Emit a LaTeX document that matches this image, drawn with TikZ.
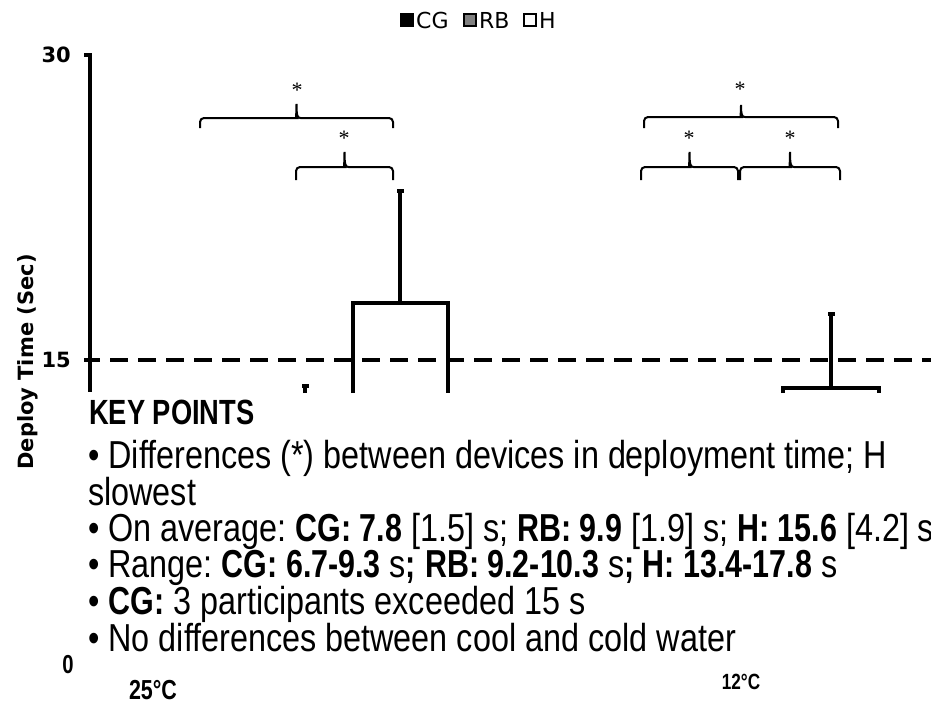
\documentclass[tikz,border=0pt]{standalone}
\usepackage{fontspec}
\setmainfont{Liberation Sans}
\newfontfamily\vfont{DejaVu Sans}
\newfontfamily\nfont[FakeStretch=0.83, BoldFeatures={FakeStretch=0.78}]{Liberation Sans}
\newfontfamily\sfont{Liberation Serif}
\usetikzlibrary{positioning,calc}
\frenchspacing

\newcommand{\tkl}{\node[anchor=east, inner sep=0, font=\vfont\bfseries\fontsize{21}{21}\selectfont]}
\newcommand{\kpl}{\node[anchor=base west, inner sep=0, font=\nfont\fontsize{39}{39}\selectfont]}
\newcommand{\sigst}{\node[anchor=base, inner sep=0, font=\sfont\fontsize{22}{22}\selectfont]}
\newcommand{\capn}{\node[fill, inner sep=0, minimum width=7, minimum height=4]}
\newcommand{\lgbox}{\node[draw, line width=2, inner sep=0, minimum size=12]}

\tikzset{
    yaxis/.style={line width=3.5},
    limit/.style={line width=4.5, dash pattern=on 18pt off 10pt, dash phase=8pt},
    barline/.style={line width=3.5},
    lgtxt/.style={inner sep=0, font=\vfont\fontsize{22}{22}\selectfont},
    brk/.style 2 args={line width=2, to path={
        let \p1=(\tikztostart), \p2=(\tikztotarget),
            \p3=($(\tikztostart)!.5!(\tikztotarget)$) in
        [rounded corners=4pt] -- (\x1,\y1+#1) -- (\x3-4pt,\y1+#1)
        [sharp corners] .. controls (\x3-1pt,\y1+#1) and (\x3,\y1+#1+2pt) .. (\x3,\y1+#1+#2)
        .. controls (\x3,\y1+#1+2pt) and (\x3+1pt,\y1+#1) .. (\x3+4pt,\y1+#1)
        [rounded corners=4pt] -- (\x2,\y1+#1) -- (\x2,\y2)
    }},
}

\begin{document}
\begin{tikzpicture}[x=1pt, y=-1pt]
            \useasboundingbox (0,0) rectangle (931,704);

            \lgbox[fill=black] (lcg) at (407,20) {};
            \lgbox[fill=black!50] (lrb) at (470,20) {};
            \lgbox[fill=white] (lh) at (530,20) {};
            \node[lgtxt, right=2pt of lcg] (tcg) {CG};
            \node[lgtxt, right=2pt of lrb] (trb) {RB};
            \node[lgtxt, right=2pt of lh] (th) {H};

            \tkl (l30) at (71,55) {30};
            \tkl (l15) at (71,360) {15};
            \node[inner sep=0, font=\nfont\bfseries\fontsize{26}{26}\selectfont] (l0) at (68,665) {0};
            \node[rotate=90, anchor=base, inner sep=0, font=\vfont\bfseries\fontsize{21}{21}\selectfont] (ylab) at (33,362) {Deploy Time (Sec)};

            \coordinate (t30) at (84,55);
            \coordinate (y30) at (90,55);
            \coordinate (t15) at (84,360);
            \coordinate (y15) at (90,360);
            \coordinate (ybot) at (90,392);
            \coordinate (dend) at (931,360);

            \draw[yaxis]
                (t30) -- (y30) -- (ybot)
                (t15) -- (y15)
                ;
            \draw[limit] (y15) -- (dend);

            \coordinate (h25l) at (353,393);
            \coordinate (h25t) at (400,303);
            \coordinate (h25r) at (448,393);
            \capn (h25e) at (400,191) {};
            \coordinate (h12l) at (783,393);
            \coordinate (h12t) at (831,388);
            \coordinate (h12r) at (879,393);
            \capn (h12e) at (831,314) {};
            \coordinate (rb25b) at (305,393);
            \capn (rb25e) at (305,386) {};

            \draw[barline]
                (h25l) |- (h25t) -| (h25r)
                (h12l) |- (h12t) -| (h12r)
                (h25t) -- (h25e)
                (h12t) -- (h12e)
                (rb25b) -- (rb25e)
                ;

            \coordinate (b1a) at (200,128);
            \coordinate (b1b) at (393,128);
            \coordinate (b2a) at (296,180);
            \coordinate (b2b) at (393,180);
            \coordinate (b3a) at (644,128);
            \coordinate (b3b) at (838,128);
            \coordinate (b4a) at (641,180);
            \coordinate (b4b) at (738,180);
            \coordinate (b5a) at (740,180);
            \coordinate (b5b) at (840,180);

            \draw[brk={10pt}{14pt}] (b1a) to (b1b);
            \draw[brk={13pt}{15pt}] (b2a) to (b2b);
            \draw[brk={11pt}{12pt}] (b3a) to (b3b);
            \draw[brk={13pt}{15pt}] (b4a) to (b4b);
            \draw[brk={13pt}{15pt}] (b5a) to (b5b);

            \sigst (s1) at (297,97) {*};
            \sigst (s2) at (344,145) {*};
            \sigst (s3) at (740,96) {*};
            \sigst (s4) at (689,145) {*};
            \sigst (s5) at (790,145) {*};

            \node[anchor=base west, inner sep=0, font=\nfont\bfseries\fontsize{35}{35}\selectfont] (kh) at (89,424) {KEY POINTS};
            \kpl (k1) at (88,468) {• Differences (*) between devices in deployment time; H};
            \kpl (k1b) at (88,505) {slowest};
            \kpl (k2) at (88,541) {• On average: \textbf{CG: 7.8} [1.5] s; \textbf{RB: 9.9} [1.9] s; \textbf{H: 15.6} [4.2] s};
            \kpl (k3) at (88,577) {• Range: \textbf{CG: 6.7-9.3} s\textbf{;} \textbf{RB: 9.2-10.3} s\textbf{; H: 13.4-17.8} s};
            \kpl (k4) at (88,614) {• \textbf{CG:} 3 participants exceeded 15 s};
            \kpl (k5) at (88,651) {• No differences between cool and cold water};

            \node[inner sep=0, font=\nfont\bfseries\fontsize{27.5}{27.5}\selectfont] (c25) at (153,690) {25°C};
            \node[inner sep=0, font=\nfont\bfseries\fontsize{22}{22}\selectfont] (c12) at (741,682) {12°C};
\end{tikzpicture}
\end{document}
